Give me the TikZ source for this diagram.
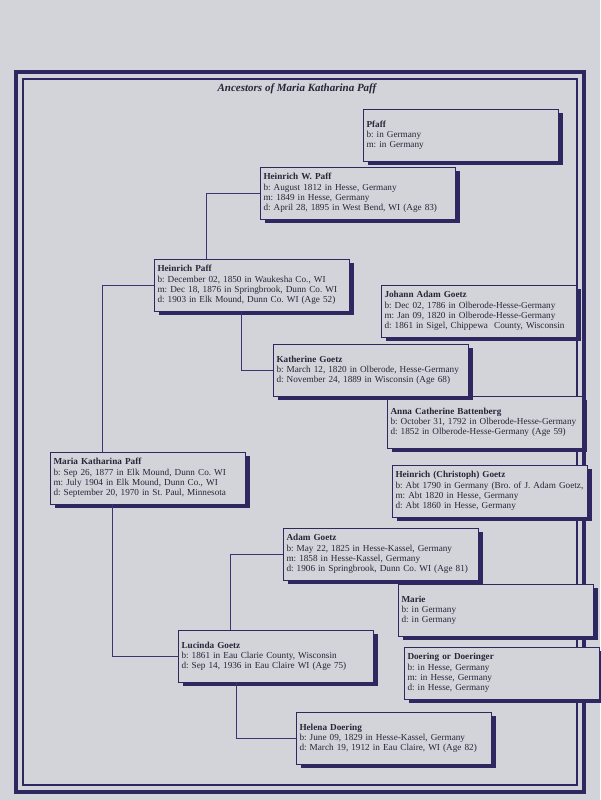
\documentclass[tikz,border=0pt]{standalone}
\usepackage{fontspec}
\setmainfont{Liberation Serif}
\usetikzlibrary{shadows}
\definecolor{paper}{HTML}{D3D4D9}
\definecolor{ink}{HTML}{2D2860}
\definecolor{txt}{HTML}{26253A}
\definecolor{wire}{HTML}{3A3570}
\frenchspacing

\begin{document}
\begin{tikzpicture}[x=1pt,y=-1pt,
  person/.style={draw=ink,line width=0.5pt,fill=paper,text=txt,
    minimum width=195pt,minimum height=52pt,text width=189pt,
    inner xsep=3pt,align=left,font=\fontsize{9.2}{10.2}\selectfont,
    general shadow={fill=ink,shadow xshift=4pt,shadow yshift=-4pt}},
  link/.style={draw=wire,line width=0.6pt}]
  \useasboundingbox (0,0) rectangle (600,800);
  \fill[paper] (0,0) rectangle (600,800);
  % ----- frame -----
  \draw[ink,line width=4pt] (16,72) rectangle (584,792);
  \draw[ink,line width=1.5pt] (23,79) rectangle (577,785);
  \node[text=txt,font=\fontsize{11}{13}\selectfont\bfseries\itshape] (title) at (297,89){Ancestors of Maria Katharina Paff};
  % ----- paternal side -----
  \node[person] (pfaff) at (461,135){\textbf{Pfaff}\\b: in Germany\\m: in Germany};
  \node[person] (hwpaff) at (358,193){\textbf{Heinrich W. Paff}\\b: August 1812 in Hesse, Germany\\m: 1849 in Hesse, Germany\\d: April 28, 1895 in West Bend, WI (Age 83)};
  \node[person] (hpaff) at (252,285){\textbf{Heinrich Paff}\\b: December 02, 1850 in Waukesha Co., WI\\m: Dec 18, 1876 in Springbrook, Dunn Co. WI\\d: 1903 in Elk Mound, Dunn Co. WI (Age 52)};
  \node[person] (jagoetz) at (479,311){\textbf{Johann Adam Goetz}\\b: Dec 02, 1786 in Olberode-Hesse-Germany\\m: Jan 09, 1820 in Olberode-Hesse-Germany\\d: 1861 in Sigel, Chippewa\ \ County, Wisconsin};
  \node[person] (acbatt) at (485,422){\textbf{Anna Catherine Battenberg}\\b: October 31, 1792 in Olberode-Hesse-Germany\\d: 1852 in Olberode-Hesse-Germany (Age 59)};
  \node[person] (kgoetz) at (371,370){\textbf{Katherine Goetz}\\b: March 12, 1820 in Olberode, Hesse-Germany\\d: November 24, 1889 in Wisconsin (Age 68)};
  % ----- root -----
  \node[person] (mkpaff) at (148,478){\textbf{Maria Katharina Paff}\\b: Sep 26, 1877 in Elk Mound, Dunn Co. WI\\m: July 1904 in Elk Mound, Dunn Co., WI\\d: September 20, 1970 in St. Paul, Minnesota};
  % ----- maternal side -----
  \node[person] (hcgoetz) at (490,491){\textbf{Heinrich (Christoph) Goetz}\\b: Abt 1790 in Germany (Bro. of J. Adam Goetz,\\m: Abt 1820 in Hesse, Germany\\d: Abt 1860 in Hesse, Germany};
  \node[person] (agoetz) at (381,554){\textbf{Adam Goetz}\\b: May 22, 1825 in Hesse-Kassel, Germany\\m: 1858 in Hesse-Kassel, Germany\\d: 1906 in Springbrook, Dunn Co. WI (Age 81)};
  \node[person] (marie) at (496,610){\textbf{Marie}\\b: in Germany\\d: in Germany};
  \node[person] (lgoetz) at (276,656){\textbf{Lucinda Goetz}\\b: 1861 in Eau Clarie County, Wisconsin\\d: Sep 14, 1936 in Eau Claire WI (Age 75)};
  \node[person] (doering) at (502,673){\textbf{Doering or Doeringer}\\b: in Hesse, Germany\\m: in Hesse, Germany\\d: in Hesse, Germany};
  \node[person] (hdoering) at (394,738){\textbf{Helena Doering}\\b: June 09, 1829 in Hesse-Kassel, Germany\\d: March 19, 1912 in Eau Claire, WI (Age 82)};
  % ----- connectors -----
  \draw[link] (hwpaff.west) -| ([xshift=52pt]hpaff.north west);
  \draw[link] ([xshift=87pt]hpaff.south west) |- (kgoetz.west);
  \draw[link] (hpaff.west) -| ([xshift=52pt]mkpaff.north west);
  \draw[link] ([xshift=62pt]mkpaff.south west) |- (lgoetz.west);
  \draw[link] (agoetz.west) -| ([xshift=52pt]lgoetz.north west);
  \draw[link] ([xshift=58pt]lgoetz.south west) |- (hdoering.west);
\end{tikzpicture}
\end{document}
